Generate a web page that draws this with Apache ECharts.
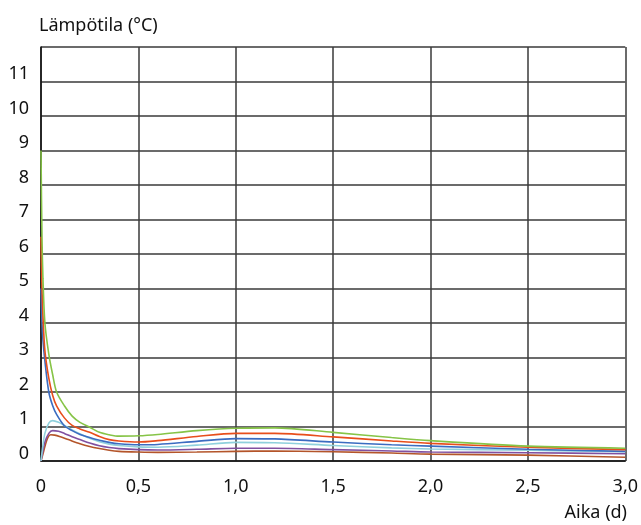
<!DOCTYPE html>
<html>
<head>
<meta charset="utf-8">
<script src="https://cdn.jsdelivr.net/npm/echarts@6/dist/echarts.min.js"></script>
<style>html,body{margin:0;padding:0;background:#fff}#c{width:641px;height:525px}</style>
</head>
<body>
<div id="c"></div>
<script>
// Time (d) and temperatures (°C) per series
var greenT  = [0,0.005,0.01,0.02,0.04,0.06,0.08,0.12,0.16,0.2,0.25,0.3,0.35,0.4,0.5,0.6,0.8,1.0,1.2,1.5,1.8,2.0,2.5,3.0];
var greenV  = [9,6.5,5.3,4.0,3.1,2.5,2.0,1.6,1.3,1.12,0.98,0.83,0.76,0.72,0.73,0.77,0.88,0.95,0.96,0.83,0.68,0.59,0.43,0.37];

var orangeT = [0,0.005,0.01,0.02,0.04,0.06,0.08,0.12,0.16,0.2,0.25,0.3,0.35,0.4,0.5,0.6,0.8,1.0,1.2,1.5,1.8,2.0,2.5,3.0];
var orangeV = [6.5,5.0,4.2,3.2,2.4,1.9,1.6,1.25,1.03,0.93,0.83,0.71,0.62,0.58,0.55,0.59,0.71,0.8,0.8,0.7,0.58,0.51,0.4,0.33];

var blueT   = [0,0.005,0.01,0.02,0.04,0.06,0.08,0.12,0.16,0.2,0.25,0.3,0.35,0.4,0.5,0.6,0.8,1.0,1.2,1.5,1.8,2.0,2.5,3.0];
var blueV   = [5,4.0,3.5,2.9,2.0,1.6,1.35,1.02,0.88,0.77,0.68,0.6,0.54,0.5,0.47,0.48,0.57,0.65,0.64,0.55,0.47,0.43,0.34,0.28];

var cyanT   = [0,0.01,0.02,0.04,0.06,0.09,0.12,0.16,0.2,0.25,0.3,0.35,0.4,0.5,0.6,0.8,1.0,1.2,1.5,1.8,2.0,2.5,3.0];
var cyanV   = [0,0.45,0.8,1.1,1.17,1.12,1.03,0.9,0.79,0.66,0.56,0.49,0.45,0.41,0.4,0.46,0.54,0.53,0.45,0.38,0.35,0.31,0.27];

var purpleT = [0,0.01,0.02,0.04,0.06,0.09,0.12,0.16,0.2,0.25,0.3,0.35,0.4,0.5,0.6,0.8,1.0,1.2,1.5,1.8,2.0,2.5,3.0];
var purpleV = [0,0.3,0.55,0.8,0.88,0.86,0.8,0.7,0.62,0.52,0.44,0.39,0.36,0.33,0.32,0.34,0.37,0.37,0.33,0.29,0.26,0.24,0.21];

var brownT  = [0,0.01,0.02,0.035,0.05,0.07,0.1,0.14,0.2,0.25,0.3,0.35,0.4,0.5,0.6,0.8,1.0,1.2,1.5,1.8,2.0,2.5,3.0];
var brownV  = [0,0.2,0.42,0.68,0.76,0.75,0.7,0.62,0.5,0.42,0.36,0.31,0.28,0.26,0.25,0.26,0.28,0.29,0.27,0.23,0.2,0.17,0.11];

var yTickLabels = ['0','1','2','3','4','5','6','7','8','9','10','11',''];
var xTickLabels = ['0','0,5','1,0','1,5','2,0','2,5','3,0'];

function pairs(t, v){ return t.map(function(x,i){ return [x, v[i]]; }); }

var FONT = 'Noto Sans';
var FS = 18;
var seriesDefs = [
  {name:'brown',  t:brownT,  v:brownV,  c:'#b4552a'},
  {name:'purple', t:purpleT, v:purpleV, c:'#8150a0'},
  {name:'cyan',   t:cyanT,   v:cyanV,   c:'#8fd0dc'},
  {name:'blue',   t:blueT,   v:blueV,   c:'#3b6cc1'},
  {name:'orange', t:orangeT, v:orangeV, c:'#e84e1b'},
  {name:'green',  t:greenT,  v:greenV,  c:'#86c447'}
];

var chart = echarts.init(document.getElementById('c'), null, {renderer:'canvas'});
chart.setOption({
  animation:false,
  backgroundColor:'#fff',
  grid:{left:41, right:14, top:47, bottom:64, containLabel:false},
  xAxis:{
    type:'value', min:0, max:3, interval:0.5,
    axisLine:{show:true, lineStyle:{color:'#111', width:1.5}},
    axisTick:{show:false},
    axisLabel:{
      margin:17, color:'#111', fontFamily:FONT, fontSize:FS,
      formatter:function(v){ return xTickLabels[Math.round(v/0.5)]; }
    },
    splitLine:{show:true, lineStyle:{color:'#3a3a3a', width:1.5}}
  },
  yAxis:{
    type:'value', min:0, max:12, interval:1,
    name:'Lämpötila (°C)', nameLocation:'end', nameGap:12,
    nameTextStyle:{align:'left', color:'#111', fontFamily:FONT, fontSize:FS, padding:[0,0,0,-2]},
    axisLine:{show:true, lineStyle:{color:'#111', width:1.5}},
    axisTick:{show:false},
    axisLabel:{
      margin:12, color:'#111', fontFamily:FONT, fontSize:FS,
      verticalAlign:'bottom', lineHeight:15,
      formatter:function(v){ return yTickLabels[Math.round(v)]; }
    },
    splitLine:{show:true, lineStyle:{color:'#3a3a3a', width:1.5}}
  },
  graphic:[{
    type:'text', right:14, top:504,
    style:{text:'Aika (d)', fill:'#111', font:FS + 'px "Noto Sans"'}
  }],
  series: seriesDefs.map(function(s){
    return {
      name:s.name, type:'line', data:pairs(s.t, s.v),
      showSymbol:false, smooth:0.3,
      lineStyle:{color:s.c, width:1.6}, itemStyle:{color:s.c}
    };
  })
});
</script>
</body>
</html>
